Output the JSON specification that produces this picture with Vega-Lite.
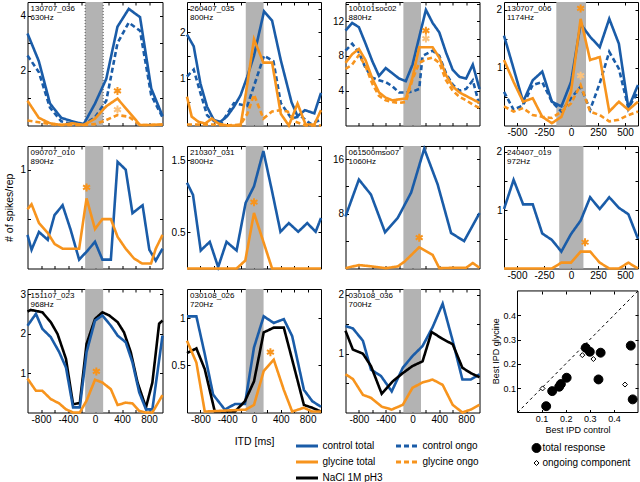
{
"$schema":"https://vega.github.io/schema/vega-lite/v6.json",
"padding":{"left":3.5,"top":-2,"right":0,"bottom":0},
"config":{
 "view":{"stroke":"black","strokeWidth":1},
 "font":"Liberation Sans",
 "axis":{"grid":false,"domain":false,"ticks":true,"tickSize":-3,"tickColor":"black","tickWidth":1,"labelPadding":5,"labelOverlap":false,"labelFont":"Liberation Sans","labelFontSize":10,"labelColor":"black","titleFont":"Liberation Sans","titleFontSize":10.5,"titleFontWeight":"normal","titleColor":"black"}
},
"datasets":{
"curves":[
{"p":1,"s":"ct","x":-1000,"y":3.35},{"p":1,"s":"ct","x":-833,"y":2.35},{"p":1,"s":"ct","x":-667,"y":0.8},{"p":1,"s":"ct","x":-500,"y":0.28},{"p":1,"s":"ct","x":-333,"y":0.15},{"p":1,"s":"ct","x":-167,"y":0.05},{"p":1,"s":"ct","x":0,"y":0.8},{"p":1,"s":"ct","x":167,"y":1.7},{"p":1,"s":"ct","x":333,"y":3.6},{"p":1,"s":"ct","x":500,"y":4.25},{"p":1,"s":"ct","x":667,"y":3.95},{"p":1,"s":"ct","x":833,"y":1.35},{"p":1,"s":"ct","x":1000,"y":0.35},
{"p":1,"s":"co","x":-1000,"y":2.55},{"p":1,"s":"co","x":-833,"y":1.95},{"p":1,"s":"co","x":-667,"y":0.65},{"p":1,"s":"co","x":-500,"y":0.15},{"p":1,"s":"co","x":-333,"y":0.05},{"p":1,"s":"co","x":-167,"y":0.03},{"p":1,"s":"co","x":0,"y":0.3},{"p":1,"s":"co","x":167,"y":0.9},{"p":1,"s":"co","x":333,"y":3.0},{"p":1,"s":"co","x":500,"y":3.75},{"p":1,"s":"co","x":667,"y":3.45},{"p":1,"s":"co","x":833,"y":1.1},{"p":1,"s":"co","x":1000,"y":0.3},
{"p":1,"s":"gt","x":-1000,"y":0.9},{"p":1,"s":"gt","x":-833,"y":0.28},{"p":1,"s":"gt","x":-667,"y":0.08},{"p":1,"s":"gt","x":-500,"y":0.02},{"p":1,"s":"gt","x":-333,"y":0.08},{"p":1,"s":"gt","x":-167,"y":0.02},{"p":1,"s":"gt","x":0,"y":0.25},{"p":1,"s":"gt","x":167,"y":0.7},{"p":1,"s":"gt","x":333,"y":0.98},{"p":1,"s":"gt","x":500,"y":0.5},{"p":1,"s":"gt","x":667,"y":0.02},{"p":1,"s":"gt","x":833,"y":0.02},{"p":1,"s":"gt","x":1000,"y":0.04},
{"p":1,"s":"go","x":-1000,"y":0.18},{"p":1,"s":"go","x":-833,"y":0.12},{"p":1,"s":"go","x":-667,"y":0.05},{"p":1,"s":"go","x":-500,"y":0.02},{"p":1,"s":"go","x":-333,"y":0.02},{"p":1,"s":"go","x":-167,"y":0.02},{"p":1,"s":"go","x":0,"y":0.05},{"p":1,"s":"go","x":167,"y":0.2},{"p":1,"s":"go","x":333,"y":0.38},{"p":1,"s":"go","x":500,"y":0.32},{"p":1,"s":"go","x":667,"y":0.02},{"p":1,"s":"go","x":833,"y":0.02},{"p":1,"s":"go","x":1000,"y":0.03},
{"p":2,"s":"ct","x":-1000,"y":1.95},{"p":2,"s":"ct","x":-900,"y":1.7},{"p":2,"s":"ct","x":-800,"y":0.9},{"p":2,"s":"ct","x":-700,"y":0.4},{"p":2,"s":"ct","x":-600,"y":0.12},{"p":2,"s":"ct","x":-500,"y":0.08},{"p":2,"s":"ct","x":-400,"y":0.2},{"p":2,"s":"ct","x":-300,"y":0.4},{"p":2,"s":"ct","x":-200,"y":0.65},{"p":2,"s":"ct","x":-100,"y":1.05},{"p":2,"s":"ct","x":0,"y":1.5},{"p":2,"s":"ct","x":150,"y":2.45},{"p":2,"s":"ct","x":270,"y":2.25},{"p":2,"s":"ct","x":400,"y":1.4},{"p":2,"s":"ct","x":560,"y":0.5},{"p":2,"s":"ct","x":650,"y":0.2},{"p":2,"s":"ct","x":760,"y":0.33},{"p":2,"s":"ct","x":900,"y":0.26},{"p":2,"s":"ct","x":1000,"y":0.7},
{"p":2,"s":"co","x":-1000,"y":1.05},{"p":2,"s":"co","x":-900,"y":1.2},{"p":2,"s":"co","x":-800,"y":0.7},{"p":2,"s":"co","x":-700,"y":0.22},{"p":2,"s":"co","x":-600,"y":0.1},{"p":2,"s":"co","x":-500,"y":0.02},{"p":2,"s":"co","x":-400,"y":0.25},{"p":2,"s":"co","x":-300,"y":0.48},{"p":2,"s":"co","x":-200,"y":0.45},{"p":2,"s":"co","x":-100,"y":0.42},{"p":2,"s":"co","x":0,"y":0.85},{"p":2,"s":"co","x":150,"y":1.5},{"p":2,"s":"co","x":290,"y":1.38},{"p":2,"s":"co","x":400,"y":0.48},{"p":2,"s":"co","x":560,"y":0.15},{"p":2,"s":"co","x":700,"y":0.2},{"p":2,"s":"co","x":840,"y":0.04},{"p":2,"s":"co","x":1000,"y":0.12},
{"p":2,"s":"gt","x":-1000,"y":0.62},{"p":2,"s":"gt","x":-930,"y":0.19},{"p":2,"s":"gt","x":-830,"y":0.08},{"p":2,"s":"gt","x":-730,"y":0.04},{"p":2,"s":"gt","x":-630,"y":0.15},{"p":2,"s":"gt","x":-530,"y":0.04},{"p":2,"s":"gt","x":-400,"y":0},{"p":2,"s":"gt","x":-300,"y":0},{"p":2,"s":"gt","x":-200,"y":0},{"p":2,"s":"gt","x":-120,"y":0.7},{"p":2,"s":"gt","x":0,"y":1.85},{"p":2,"s":"gt","x":140,"y":1.35},{"p":2,"s":"gt","x":270,"y":1.35},{"p":2,"s":"gt","x":400,"y":0.25},{"p":2,"s":"gt","x":520,"y":0},{"p":2,"s":"gt","x":650,"y":0.47},{"p":2,"s":"gt","x":770,"y":0.02},{"p":2,"s":"gt","x":900,"y":0.02},{"p":2,"s":"gt","x":1000,"y":0.33},
{"p":2,"s":"go","x":-1000,"y":0.02},{"p":2,"s":"go","x":-800,"y":0.02},{"p":2,"s":"go","x":-600,"y":0.02},{"p":2,"s":"go","x":-400,"y":0},{"p":2,"s":"go","x":-200,"y":0.02},{"p":2,"s":"go","x":-100,"y":0.25},{"p":2,"s":"go","x":0,"y":0.66},{"p":2,"s":"go","x":140,"y":0.15},{"p":2,"s":"go","x":270,"y":0.3},{"p":2,"s":"go","x":400,"y":0.33},{"p":2,"s":"go","x":500,"y":0.3},{"p":2,"s":"go","x":620,"y":0.08},{"p":2,"s":"go","x":770,"y":0},{"p":2,"s":"go","x":1000,"y":0},
{"p":3,"s":"ct","x":-1000,"y":10.9},{"p":3,"s":"ct","x":-900,"y":11.8},{"p":3,"s":"ct","x":-800,"y":11.3},{"p":3,"s":"ct","x":-700,"y":9.4},{"p":3,"s":"ct","x":-600,"y":7.4},{"p":3,"s":"ct","x":-500,"y":5.7},{"p":3,"s":"ct","x":-400,"y":6.6},{"p":3,"s":"ct","x":-300,"y":6.0},{"p":3,"s":"ct","x":-200,"y":5.4},{"p":3,"s":"ct","x":-100,"y":5.1},{"p":3,"s":"ct","x":0,"y":7.0},{"p":3,"s":"ct","x":200,"y":13.3},{"p":3,"s":"ct","x":300,"y":11.8},{"p":3,"s":"ct","x":400,"y":10.7},{"p":3,"s":"ct","x":500,"y":8.4},{"p":3,"s":"ct","x":600,"y":6.4},{"p":3,"s":"ct","x":700,"y":5.6},{"p":3,"s":"ct","x":800,"y":5.4},{"p":3,"s":"ct","x":900,"y":7.0},{"p":3,"s":"ct","x":1000,"y":4.2},
{"p":3,"s":"co","x":-1000,"y":8.6},{"p":3,"s":"co","x":-900,"y":9.4},{"p":3,"s":"co","x":-800,"y":8.4},{"p":3,"s":"co","x":-700,"y":6.6},{"p":3,"s":"co","x":-600,"y":5.5},{"p":3,"s":"co","x":-500,"y":5.2},{"p":3,"s":"co","x":-400,"y":5.0},{"p":3,"s":"co","x":-300,"y":4.5},{"p":3,"s":"co","x":-200,"y":3.8},{"p":3,"s":"co","x":-100,"y":3.8},{"p":3,"s":"co","x":0,"y":3.9},{"p":3,"s":"co","x":100,"y":4.2},{"p":3,"s":"co","x":150,"y":8.0},{"p":3,"s":"co","x":300,"y":8.6},{"p":3,"s":"co","x":400,"y":8.0},{"p":3,"s":"co","x":500,"y":6.0},{"p":3,"s":"co","x":600,"y":4.7},{"p":3,"s":"co","x":700,"y":4.0},{"p":3,"s":"co","x":800,"y":4.2},{"p":3,"s":"co","x":900,"y":5.2},{"p":3,"s":"co","x":1000,"y":2.3},
{"p":3,"s":"gt","x":-1000,"y":7.2},{"p":3,"s":"gt","x":-900,"y":8.2},{"p":3,"s":"gt","x":-800,"y":8.8},{"p":3,"s":"gt","x":-700,"y":7.5},{"p":3,"s":"gt","x":-600,"y":5.4},{"p":3,"s":"gt","x":-500,"y":3.8},{"p":3,"s":"gt","x":-400,"y":3.2},{"p":3,"s":"gt","x":-300,"y":2.9},{"p":3,"s":"gt","x":-200,"y":3.0},{"p":3,"s":"gt","x":-100,"y":3.1},{"p":3,"s":"gt","x":0,"y":5.5},{"p":3,"s":"gt","x":100,"y":9.0},{"p":3,"s":"gt","x":200,"y":9.0},{"p":3,"s":"gt","x":300,"y":9.0},{"p":3,"s":"gt","x":400,"y":7.8},{"p":3,"s":"gt","x":500,"y":5.8},{"p":3,"s":"gt","x":600,"y":4.5},{"p":3,"s":"gt","x":700,"y":3.8},{"p":3,"s":"gt","x":800,"y":3.4},{"p":3,"s":"gt","x":900,"y":3.0},{"p":3,"s":"gt","x":1000,"y":2.6},
{"p":3,"s":"go","x":-1000,"y":6.5},{"p":3,"s":"go","x":-900,"y":7.0},{"p":3,"s":"go","x":-800,"y":8.1},{"p":3,"s":"go","x":-700,"y":6.8},{"p":3,"s":"go","x":-600,"y":4.8},{"p":3,"s":"go","x":-500,"y":3.4},{"p":3,"s":"go","x":-400,"y":2.9},{"p":3,"s":"go","x":-300,"y":2.7},{"p":3,"s":"go","x":-200,"y":2.6},{"p":3,"s":"go","x":-100,"y":2.7},{"p":3,"s":"go","x":0,"y":5.3},{"p":3,"s":"go","x":100,"y":7.2},{"p":3,"s":"go","x":200,"y":7.6},{"p":3,"s":"go","x":300,"y":7.8},{"p":3,"s":"go","x":400,"y":7.2},{"p":3,"s":"go","x":500,"y":5.2},{"p":3,"s":"go","x":600,"y":4.0},{"p":3,"s":"go","x":700,"y":3.3},{"p":3,"s":"go","x":800,"y":2.9},{"p":3,"s":"go","x":900,"y":2.4},{"p":3,"s":"go","x":1000,"y":2.0},
{"p":4,"s":"ct","x":-620,"y":1.55},{"p":4,"s":"ct","x":-531,"y":0.98},{"p":4,"s":"ct","x":-443,"y":0.41},{"p":4,"s":"ct","x":-354,"y":0.78},{"p":4,"s":"ct","x":-266,"y":0.93},{"p":4,"s":"ct","x":-177,"y":0.41},{"p":4,"s":"ct","x":-89,"y":0.33},{"p":4,"s":"ct","x":0,"y":0.75},{"p":4,"s":"ct","x":89,"y":1.75},{"p":4,"s":"ct","x":177,"y":1.53},{"p":4,"s":"ct","x":266,"y":1.35},{"p":4,"s":"ct","x":354,"y":1.84},{"p":4,"s":"ct","x":443,"y":1.41},{"p":4,"s":"ct","x":531,"y":0.3},{"p":4,"s":"ct","x":620,"y":0.7},
{"p":4,"s":"co","x":-620,"y":0.58},{"p":4,"s":"co","x":-531,"y":0.27},{"p":4,"s":"co","x":-443,"y":0.35},{"p":4,"s":"co","x":-354,"y":0.7},{"p":4,"s":"co","x":-266,"y":0.75},{"p":4,"s":"co","x":-177,"y":0.41},{"p":4,"s":"co","x":-89,"y":0.24},{"p":4,"s":"co","x":0,"y":0.47},{"p":4,"s":"co","x":89,"y":0.67},{"p":4,"s":"co","x":177,"y":0.27},{"p":4,"s":"co","x":266,"y":0.73},{"p":4,"s":"co","x":354,"y":1.27},{"p":4,"s":"co","x":443,"y":0.98},{"p":4,"s":"co","x":531,"y":0.3},{"p":4,"s":"co","x":620,"y":0.58},
{"p":4,"s":"gt","x":-620,"y":1.13},{"p":4,"s":"gt","x":-531,"y":0.75},{"p":4,"s":"gt","x":-443,"y":0.41},{"p":4,"s":"gt","x":-354,"y":0.47},{"p":4,"s":"gt","x":-266,"y":0.15},{"p":4,"s":"gt","x":-177,"y":0.04},{"p":4,"s":"gt","x":-89,"y":0.15},{"p":4,"s":"gt","x":0,"y":0.58},{"p":4,"s":"gt","x":89,"y":1.84},{"p":4,"s":"gt","x":177,"y":1.13},{"p":4,"s":"gt","x":266,"y":1.18},{"p":4,"s":"gt","x":354,"y":0.24},{"p":4,"s":"gt","x":443,"y":0.41},{"p":4,"s":"gt","x":531,"y":0.27},{"p":4,"s":"gt","x":620,"y":0.41},
{"p":4,"s":"go","x":-620,"y":0.33},{"p":4,"s":"go","x":-531,"y":0.24},{"p":4,"s":"go","x":-443,"y":0.3},{"p":4,"s":"go","x":-354,"y":0.18},{"p":4,"s":"go","x":-266,"y":0.15},{"p":4,"s":"go","x":-177,"y":0.13},{"p":4,"s":"go","x":-89,"y":0.24},{"p":4,"s":"go","x":0,"y":0.38},{"p":4,"s":"go","x":89,"y":0.7},{"p":4,"s":"go","x":177,"y":0.24},{"p":4,"s":"go","x":266,"y":0.18},{"p":4,"s":"go","x":354,"y":0.07},{"p":4,"s":"go","x":443,"y":0.1},{"p":4,"s":"go","x":531,"y":0.18},{"p":4,"s":"go","x":620,"y":0.24},
{"p":5,"s":"ct","x":-1000,"y":0.34},{"p":5,"s":"ct","x":-940,"y":0.19},{"p":5,"s":"ct","x":-830,"y":0.37},{"p":5,"s":"ct","x":-700,"y":0.29},{"p":5,"s":"ct","x":-600,"y":0.54},{"p":5,"s":"ct","x":-480,"y":0.64},{"p":5,"s":"ct","x":-360,"y":0.39},{"p":5,"s":"ct","x":-235,"y":0.09},{"p":5,"s":"ct","x":-125,"y":0.17},{"p":5,"s":"ct","x":0,"y":0.27},{"p":5,"s":"ct","x":110,"y":0.09},{"p":5,"s":"ct","x":235,"y":0.09},{"p":5,"s":"ct","x":335,"y":1.08},{"p":5,"s":"ct","x":455,"y":1.0},{"p":5,"s":"ct","x":555,"y":0.56},{"p":5,"s":"ct","x":705,"y":0.64},{"p":5,"s":"ct","x":805,"y":0.19},{"p":5,"s":"ct","x":900,"y":0.08},{"p":5,"s":"ct","x":1000,"y":0.2},
{"p":5,"s":"gt","x":-1000,"y":0.6},{"p":5,"s":"gt","x":-940,"y":0.65},{"p":5,"s":"gt","x":-830,"y":0.46},{"p":5,"s":"gt","x":-700,"y":0.36},{"p":5,"s":"gt","x":-600,"y":0.25},{"p":5,"s":"gt","x":-480,"y":0.2},{"p":5,"s":"gt","x":-380,"y":0.2},{"p":5,"s":"gt","x":-235,"y":0.2},{"p":5,"s":"gt","x":-125,"y":0.71},{"p":5,"s":"gt","x":0,"y":0.4},{"p":5,"s":"gt","x":110,"y":0.5},{"p":5,"s":"gt","x":235,"y":0.5},{"p":5,"s":"gt","x":335,"y":0.32},{"p":5,"s":"gt","x":455,"y":0.2},{"p":5,"s":"gt","x":580,"y":0.1},{"p":5,"s":"gt","x":700,"y":0.05},{"p":5,"s":"gt","x":830,"y":0.05},{"p":5,"s":"gt","x":900,"y":0.2},{"p":5,"s":"gt","x":1000,"y":0.34},
{"p":6,"s":"ct","x":-1000,"y":1.19},{"p":6,"s":"ct","x":-910,"y":1.02},{"p":6,"s":"ct","x":-795,"y":0.25},{"p":6,"s":"ct","x":-660,"y":0.37},{"p":6,"s":"ct","x":-535,"y":0.02},{"p":6,"s":"ct","x":-410,"y":0.37},{"p":6,"s":"ct","x":-260,"y":0.25},{"p":6,"s":"ct","x":-125,"y":0.91},{"p":6,"s":"ct","x":0,"y":1.14},{"p":6,"s":"ct","x":140,"y":1.63},{"p":6,"s":"ct","x":270,"y":1.07},{"p":6,"s":"ct","x":395,"y":0.51},{"p":6,"s":"ct","x":520,"y":0.63},{"p":6,"s":"ct","x":660,"y":0.51},{"p":6,"s":"ct","x":795,"y":0.63},{"p":6,"s":"ct","x":920,"y":0.51},{"p":6,"s":"ct","x":1000,"y":0.7},
{"p":6,"s":"gt","x":-1000,"y":0},{"p":6,"s":"gt","x":-260,"y":0},{"p":6,"s":"gt","x":-130,"y":0.11},{"p":6,"s":"gt","x":0,"y":0.77},{"p":6,"s":"gt","x":270,"y":0},{"p":6,"s":"gt","x":1000,"y":0},
{"p":7,"s":"ct","x":-1000,"y":7.6},{"p":7,"s":"ct","x":-800,"y":13.0},{"p":7,"s":"ct","x":-620,"y":10.8},{"p":7,"s":"ct","x":-410,"y":5.3},{"p":7,"s":"ct","x":-220,"y":7.4},{"p":7,"s":"ct","x":-20,"y":11.1},{"p":7,"s":"ct","x":175,"y":17.5},{"p":7,"s":"ct","x":375,"y":12.3},{"p":7,"s":"ct","x":575,"y":5.2},{"p":7,"s":"ct","x":770,"y":4.0},{"p":7,"s":"ct","x":1000,"y":8.1},
{"p":7,"s":"gt","x":-1000,"y":0.05},{"p":7,"s":"gt","x":-800,"y":0.5},{"p":7,"s":"gt","x":-600,"y":0.3},{"p":7,"s":"gt","x":-400,"y":0.05},{"p":7,"s":"gt","x":-220,"y":0.3},{"p":7,"s":"gt","x":-120,"y":1.0},{"p":7,"s":"gt","x":100,"y":3.1},{"p":7,"s":"gt","x":300,"y":2.0},{"p":7,"s":"gt","x":400,"y":0.05},{"p":7,"s":"gt","x":600,"y":0.1},{"p":7,"s":"gt","x":800,"y":0.1},{"p":7,"s":"gt","x":900,"y":0.8},{"p":7,"s":"gt","x":1000,"y":0.1},
{"p":8,"s":"ct","x":-620,"y":1.02},{"p":8,"s":"ct","x":-531,"y":1.52},{"p":8,"s":"ct","x":-443,"y":1.1},{"p":8,"s":"ct","x":-354,"y":1.1},{"p":8,"s":"ct","x":-266,"y":0.6},{"p":8,"s":"ct","x":-177,"y":0.49},{"p":8,"s":"ct","x":-89,"y":0.29},{"p":8,"s":"ct","x":0,"y":0.59},{"p":8,"s":"ct","x":89,"y":0.82},{"p":8,"s":"ct","x":177,"y":1.22},{"p":8,"s":"ct","x":266,"y":1.02},{"p":8,"s":"ct","x":354,"y":1.22},{"p":8,"s":"ct","x":443,"y":1.04},{"p":8,"s":"ct","x":531,"y":0.93},{"p":8,"s":"ct","x":620,"y":0.51},
{"p":8,"s":"gt","x":-620,"y":0},{"p":8,"s":"gt","x":-531,"y":0},{"p":8,"s":"gt","x":-443,"y":0},{"p":8,"s":"gt","x":-354,"y":0},{"p":8,"s":"gt","x":-266,"y":0},{"p":8,"s":"gt","x":-177,"y":0},{"p":8,"s":"gt","x":-89,"y":0.1},{"p":8,"s":"gt","x":0,"y":0.1},{"p":8,"s":"gt","x":89,"y":0.29},{"p":8,"s":"gt","x":177,"y":0.29},{"p":8,"s":"gt","x":266,"y":0.1},{"p":8,"s":"gt","x":354,"y":0},{"p":8,"s":"gt","x":443,"y":0},{"p":8,"s":"gt","x":531,"y":0.1},{"p":8,"s":"gt","x":620,"y":0},
{"p":9,"s":"na","x":-1000,"y":2.56},{"p":9,"s":"na","x":-950,"y":2.6},{"p":9,"s":"na","x":-780,"y":2.54},{"p":9,"s":"na","x":-655,"y":2.29},{"p":9,"s":"na","x":-555,"y":1.99},{"p":9,"s":"na","x":-430,"y":1.36},{"p":9,"s":"na","x":-325,"y":0.21},{"p":9,"s":"na","x":-225,"y":0.24},{"p":9,"s":"na","x":-125,"y":1.74},{"p":9,"s":"na","x":0,"y":2.37},{"p":9,"s":"na","x":110,"y":2.54},{"p":9,"s":"na","x":210,"y":2.46},{"p":9,"s":"na","x":335,"y":2.29},{"p":9,"s":"na","x":430,"y":2.03},{"p":9,"s":"na","x":530,"y":1.53},{"p":9,"s":"na","x":630,"y":0.76},{"p":9,"s":"na","x":755,"y":0.13},{"p":9,"s":"na","x":850,"y":0.76},{"p":9,"s":"na","x":950,"y":2.25},{"p":9,"s":"na","x":1000,"y":2.33},
{"p":9,"s":"ct","x":-1000,"y":2.2},{"p":9,"s":"ct","x":-875,"y":2.5},{"p":9,"s":"ct","x":-780,"y":2.12},{"p":9,"s":"ct","x":-655,"y":1.91},{"p":9,"s":"ct","x":-530,"y":1.53},{"p":9,"s":"ct","x":-430,"y":1.14},{"p":9,"s":"ct","x":-325,"y":0.13},{"p":9,"s":"ct","x":-225,"y":0.13},{"p":9,"s":"ct","x":-125,"y":1.53},{"p":9,"s":"ct","x":0,"y":2.33},{"p":9,"s":"ct","x":110,"y":2.46},{"p":9,"s":"ct","x":235,"y":2.2},{"p":9,"s":"ct","x":335,"y":1.95},{"p":9,"s":"ct","x":455,"y":1.78},{"p":9,"s":"ct","x":555,"y":1.27},{"p":9,"s":"ct","x":655,"y":0.51},{"p":9,"s":"ct","x":755,"y":0.08},{"p":9,"s":"ct","x":850,"y":0.08},{"p":9,"s":"ct","x":1000,"y":1.95},
{"p":9,"s":"gt","x":-1000,"y":0.86},{"p":9,"s":"gt","x":-875,"y":0.55},{"p":9,"s":"gt","x":-780,"y":0.55},{"p":9,"s":"gt","x":-655,"y":0.34},{"p":9,"s":"gt","x":-530,"y":0.23},{"p":9,"s":"gt","x":-430,"y":0.08},{"p":9,"s":"gt","x":-325,"y":0},{"p":9,"s":"gt","x":-225,"y":0},{"p":9,"s":"gt","x":-125,"y":0.3},{"p":9,"s":"gt","x":0,"y":0.83},{"p":9,"s":"gt","x":110,"y":0.76},{"p":9,"s":"gt","x":235,"y":0.59},{"p":9,"s":"gt","x":335,"y":0.19},{"p":9,"s":"gt","x":455,"y":0.25},{"p":9,"s":"gt","x":555,"y":0.23},{"p":9,"s":"gt","x":655,"y":0.04},{"p":9,"s":"gt","x":755,"y":0},{"p":9,"s":"gt","x":850,"y":0},{"p":9,"s":"gt","x":1000,"y":0.44},
{"p":10,"s":"ct","x":-1000,"y":1.02},{"p":10,"s":"ct","x":-860,"y":1.02},{"p":10,"s":"ct","x":-735,"y":0.62},{"p":10,"s":"ct","x":-610,"y":0.19},{"p":10,"s":"ct","x":-435,"y":0.03},{"p":10,"s":"ct","x":-285,"y":0.09},{"p":10,"s":"ct","x":-135,"y":0.09},{"p":10,"s":"ct","x":0,"y":0.69},{"p":10,"s":"ct","x":145,"y":1.02},{"p":10,"s":"ct","x":295,"y":0.95},{"p":10,"s":"ct","x":445,"y":0.99},{"p":10,"s":"ct","x":570,"y":0.81},{"p":10,"s":"ct","x":745,"y":0.24},{"p":10,"s":"ct","x":870,"y":0.12},{"p":10,"s":"ct","x":1000,"y":0.06},
{"p":10,"s":"na","x":-1000,"y":0.63},{"p":10,"s":"na","x":-860,"y":0.68},{"p":10,"s":"na","x":-735,"y":0.46},{"p":10,"s":"na","x":-585,"y":0.01},{"p":10,"s":"na","x":-285,"y":0.01},{"p":10,"s":"na","x":-135,"y":0.12},{"p":10,"s":"na","x":0,"y":0.33},{"p":10,"s":"na","x":145,"y":0.85},{"p":10,"s":"na","x":295,"y":0.9},{"p":10,"s":"na","x":445,"y":0.9},{"p":10,"s":"na","x":570,"y":0.56},{"p":10,"s":"na","x":745,"y":0.08},{"p":10,"s":"na","x":870,"y":0.05},{"p":10,"s":"na","x":1000,"y":0.01},
{"p":10,"s":"gt","x":-1000,"y":0.76},{"p":10,"s":"gt","x":-860,"y":0.53},{"p":10,"s":"gt","x":-735,"y":0.01},{"p":10,"s":"gt","x":-125,"y":0.03},{"p":10,"s":"gt","x":0,"y":0.08},{"p":10,"s":"gt","x":145,"y":0.44},{"p":10,"s":"gt","x":295,"y":0.56},{"p":10,"s":"gt","x":445,"y":0.24},{"p":10,"s":"gt","x":570,"y":0.01},{"p":10,"s":"gt","x":745,"y":0.05},{"p":10,"s":"gt","x":870,"y":0.01},{"p":10,"s":"gt","x":1000,"y":0.01},
{"p":11,"s":"ct","x":-1000,"y":1.47},{"p":11,"s":"ct","x":-890,"y":1.43},{"p":11,"s":"ct","x":-740,"y":1.22},{"p":11,"s":"ct","x":-620,"y":0.73},{"p":11,"s":"ct","x":-470,"y":0.62},{"p":11,"s":"ct","x":-310,"y":0.36},{"p":11,"s":"ct","x":-145,"y":0.76},{"p":11,"s":"ct","x":0,"y":0.96},{"p":11,"s":"ct","x":150,"y":1.13},{"p":11,"s":"ct","x":300,"y":1.45},{"p":11,"s":"ct","x":450,"y":1.85},{"p":11,"s":"ct","x":600,"y":1.22},{"p":11,"s":"ct","x":745,"y":0.56},{"p":11,"s":"ct","x":870,"y":0.56},{"p":11,"s":"ct","x":1000,"y":0.65},
{"p":11,"s":"na","x":-1000,"y":1.39},{"p":11,"s":"na","x":-890,"y":1.07},{"p":11,"s":"na","x":-740,"y":1.0},{"p":11,"s":"na","x":-620,"y":0.79},{"p":11,"s":"na","x":-460,"y":0.32},{"p":11,"s":"na","x":-295,"y":0.53},{"p":11,"s":"na","x":-145,"y":0.67},{"p":11,"s":"na","x":0,"y":0.79},{"p":11,"s":"na","x":150,"y":0.87},{"p":11,"s":"na","x":285,"y":1.37},{"p":11,"s":"na","x":450,"y":1.25},{"p":11,"s":"na","x":600,"y":1.16},{"p":11,"s":"na","x":745,"y":0.76},{"p":11,"s":"na","x":870,"y":0.67},{"p":11,"s":"na","x":1000,"y":0.6},
{"p":11,"s":"gt","x":-1000,"y":0.65},{"p":11,"s":"gt","x":-890,"y":0.57},{"p":11,"s":"gt","x":-740,"y":0.3},{"p":11,"s":"gt","x":-620,"y":0.25},{"p":11,"s":"gt","x":-460,"y":0.1},{"p":11,"s":"gt","x":-310,"y":0.05},{"p":11,"s":"gt","x":-145,"y":0.13},{"p":11,"s":"gt","x":0,"y":0.42},{"p":11,"s":"gt","x":150,"y":0.51},{"p":11,"s":"gt","x":300,"y":0.56},{"p":11,"s":"gt","x":450,"y":0.47},{"p":11,"s":"gt","x":600,"y":0.13},{"p":11,"s":"gt","x":745,"y":0},{"p":11,"s":"gt","x":870,"y":0.05},{"p":11,"s":"gt","x":1000,"y":0.13}
],
"stars":[
{"p":1,"x":333,"y":1.26,"k":"t"},{"p":1,"x":333,"y":0.58,"k":"o"},{"p":3,"x":200,"y":10.9,"k":"t"},{"p":3,"x":200,"y":10.0,"k":"o"},{"p":4,"x":89,"y":2.02,"k":"t"},{"p":4,"x":89,"y":0.86,"k":"o"},{"p":5,"x":-125,"y":0.82,"k":"t"},{"p":6,"x":0,"y":0.92,"k":"t"},{"p":7,"x":100,"y":4.5,"k":"t"},{"p":8,"x":130,"y":0.45,"k":"t"},{"p":9,"x":20,"y":1.04,"k":"t"},{"p":10,"x":245,"y":0.64,"k":"t"}
],
"ipd":[
{"k":"t","x":0.119,"y":0.026},{"k":"t","x":0.144,"y":0.088},{"k":"t","x":0.173,"y":0.106},{"k":"t","x":0.18,"y":0.117},{"k":"t","x":0.204,"y":0.143},{"k":"t","x":0.283,"y":0.266},{"k":"t","x":0.3,"y":0.25},{"k":"t","x":0.345,"y":0.246},{"k":"t","x":0.336,"y":0.136},{"k":"t","x":0.47,"y":0.275},{"k":"t","x":0.478,"y":0.054},
{"k":"o","x":0.104,"y":0.099},{"k":"o","x":0.269,"y":0.236},{"k":"o","x":0.315,"y":0.22},{"k":"o","x":0.446,"y":0.115}
]
},
"bounds":"flush",
"columns":4,
"spacing":{"row":20,"column":24.5},
"concat":[
{"width":135,"height":123.5,"resolve":{"axis":{"x":"independent","y":"independent"}},"layer":[
 {"data":{"values":[{}]},"mark":{"type":"rect","color":"#b3b3b3"},"encoding":{"x":{"datum":-146,"axis":null},"x2":{"datum":121}}},
 {"data":{"values":[{}]},"mark":{"type":"rule","color":"#555555","strokeDash":[1,2],"strokeWidth":1},"encoding":{"x":{"datum":-146,"axis":null}}},
 {"data":{"values":[{}]},"mark":{"type":"rule","color":"#555555","strokeDash":[1,2],"strokeWidth":1},"encoding":{"x":{"datum":121,"axis":null}}},
 {"data":{"name":"curves"},"transform":[{"filter":"datum.p==1"}],"mark":{"type":"line","strokeWidth":2.6},"encoding":{
  "x":{"field":"x","type":"quantitative","scale":{"domain":[-1000,1000],"nice":false,"zero":false},"axis":{"title":null,"values":[-800,-600,-400,-200,0,200,400,600,800],"labels":false}},
  "y":{"field":"y","type":"quantitative","scale":{"domain":[0,4.5],"nice":false,"zero":false},"axis":{"title":null,"values":[1,2,3,4],"labelExpr":"datum.value%2==0?toString(datum.value):''"}},
  "color":{"field":"s","type":"nominal","scale":{"domain":["ct","co","gt","go","na"],"range":["#1a5ca8","#1a5ca8","#f7941d","#f7941d","#000000"]},
   "legend":{"orient":"none","legendX":267,"legendY":437,"columns":2,"direction":"horizontal","title":null,"symbolType":"M-1,0L3,0","symbolSize":121,"symbolStrokeWidth":3,"labelFont":"Liberation Sans","labelFontSize":10,"labelColor":"black","labelOffset":14,"columnPadding":6,"rowPadding":3,"labelLimit":200,"labelExpr":"datum.label=='ct'?'control total':datum.label=='co'?'control ongo':datum.label=='gt'?'glycine total':datum.label=='go'?'glycine ongo':'NaCl 1M pH3'"}},
  "strokeDash":{"field":"s","type":"nominal","scale":{"domain":["ct","co","gt","go","na"],"range":[[1,0],[5,3],[1,0],[5,3],[1,0]]}}}},
 {"data":{"name":"stars"},"transform":[{"filter":"datum.p==1"}],"mark":{"type":"point","shape":"M0,-1L0,1M-0.87,-0.5L0.87,0.5M-0.87,0.5L0.87,-0.5","filled":false,"size":64,"strokeWidth":2,"opacity":1},"encoding":{"x":{"field":"x","type":"quantitative","axis":null},"y":{"field":"y","type":"quantitative","axis":null},"stroke":{"condition":{"test":"datum.k=='t'","value":"#f7941d"},"value":"#fbc27c"}}},
 {"data":{"values":[{}]},"mark":{"type":"text","align":"left","baseline":"top","dx":3,"dy":3,"fontSize":8,"lineHeight":9,"font":"Liberation Sans","text":["130707_036","630Hz"]},"encoding":{"x":{"datum":-1000,"axis":{"orient":"top","labels":false,"title":null,"values":[-800,-600,-400,-200,0,200,400,600,800]}},"y":{"datum":4.5,"axis":{"orient":"right","labels":false,"title":null,"values":[1,2,3,4]}}}}
]},
{"width":134,"height":123.5,"resolve":{"axis":{"x":"independent","y":"independent"}},"layer":[
 {"data":{"values":[{}]},"mark":{"type":"rect","color":"#b3b3b3"},"encoding":{"x":{"datum":-123,"axis":null},"x2":{"datum":143}}},
 {"data":{"name":"curves"},"transform":[{"filter":"datum.p==2"}],"mark":{"type":"line","strokeWidth":2.6},"encoding":{
  "x":{"field":"x","type":"quantitative","scale":{"domain":[-1000,1000],"nice":false,"zero":false},"axis":{"title":null,"values":[-800,-600,-400,-200,0,200,400,600,800],"labels":false}},
  "y":{"field":"y","type":"quantitative","scale":{"domain":[0,2.65],"nice":false,"zero":false},"axis":{"title":null,"values":[0.5,1,1.5,2,2.5],"labelExpr":"datum.value%1==0?toString(datum.value):''"}},
  "color":{"field":"s","type":"nominal","scale":{"domain":["ct","co","gt","go","na"],"range":["#1a5ca8","#1a5ca8","#f7941d","#f7941d","#000000"]}},
  "strokeDash":{"field":"s","type":"nominal","scale":{"domain":["ct","co","gt","go","na"],"range":[[1,0],[5,3],[1,0],[5,3],[1,0]]}}}},
 {"data":{"values":[{}]},"mark":{"type":"text","align":"left","baseline":"top","dx":3,"dy":3,"fontSize":8,"lineHeight":9,"font":"Liberation Sans","text":["260407_035","800Hz"]},"encoding":{"x":{"datum":-1000,"axis":{"orient":"top","labels":false,"title":null,"values":[-800,-600,-400,-200,0,200,400,600,800]}},"y":{"datum":2.65,"axis":{"orient":"right","labels":false,"title":null,"values":[0.5,1,1.5,2,2.5]}}}}
]},
{"width":134,"height":123.5,"resolve":{"axis":{"x":"independent","y":"independent"}},"layer":[
 {"data":{"values":[{}]},"mark":{"type":"rect","color":"#b3b3b3"},"encoding":{"x":{"datum":-136,"axis":null},"x2":{"datum":127}}},
 {"data":{"name":"curves"},"transform":[{"filter":"datum.p==3"}],"mark":{"type":"line","strokeWidth":2.6},"encoding":{
  "x":{"field":"x","type":"quantitative","scale":{"domain":[-1000,1000],"nice":false,"zero":false},"axis":{"title":null,"values":[-800,-600,-400,-200,0,200,400,600,800],"labels":false}},
  "y":{"field":"y","type":"quantitative","scale":{"domain":[0,14.2],"nice":false,"zero":false},"axis":{"title":null,"values":[2,4,6,8,10,12,14],"labelExpr":"datum.value%4==0?toString(datum.value):''"}},
  "color":{"field":"s","type":"nominal","scale":{"domain":["ct","co","gt","go","na"],"range":["#1a5ca8","#1a5ca8","#f7941d","#f7941d","#000000"]}},
  "strokeDash":{"field":"s","type":"nominal","scale":{"domain":["ct","co","gt","go","na"],"range":[[1,0],[5,3],[1,0],[5,3],[1,0]]}}}},
 {"data":{"name":"stars"},"transform":[{"filter":"datum.p==3"}],"mark":{"type":"point","shape":"M0,-1L0,1M-0.87,-0.5L0.87,0.5M-0.87,0.5L0.87,-0.5","filled":false,"size":64,"strokeWidth":2,"opacity":1},"encoding":{"x":{"field":"x","type":"quantitative","axis":null},"y":{"field":"y","type":"quantitative","axis":null},"stroke":{"condition":{"test":"datum.k=='t'","value":"#f7941d"},"value":"#fbc27c"}}},
 {"data":{"values":[{}]},"mark":{"type":"text","align":"left","baseline":"top","dx":3,"dy":3,"fontSize":8,"lineHeight":9,"font":"Liberation Sans","text":["100101soc02","880Hz"]},"encoding":{"x":{"datum":-1000,"axis":{"orient":"top","labels":false,"title":null,"values":[-800,-600,-400,-200,0,200,400,600,800]}},"y":{"datum":14.2,"axis":{"orient":"right","labels":false,"title":null,"values":[2,4,6,8,10,12,14]}}}}
]},
{"width":134,"height":123.5,"resolve":{"axis":{"x":"independent","y":"independent"}},"layer":[
 {"data":{"values":[{}]},"mark":{"type":"rect","color":"#b3b3b3"},"encoding":{"x":{"datum":-136,"axis":null},"x2":{"datum":139}}},
 {"data":{"name":"curves"},"transform":[{"filter":"datum.p==4"}],"mark":{"type":"line","strokeWidth":2.6},"encoding":{
  "x":{"field":"x","type":"quantitative","scale":{"domain":[-620,620],"nice":false,"zero":false},"axis":{"title":null,"values":[-500,-250,0,250,500],"labelExpr":"toString(datum.value)"}},
  "y":{"field":"y","type":"quantitative","scale":{"domain":[0,2.13],"nice":false,"zero":false},"axis":{"title":null,"values":[0.5,1,1.5,2],"labelExpr":"datum.value==1?'1':''"}},
  "color":{"field":"s","type":"nominal","scale":{"domain":["ct","co","gt","go","na"],"range":["#1a5ca8","#1a5ca8","#f7941d","#f7941d","#000000"]}},
  "strokeDash":{"field":"s","type":"nominal","scale":{"domain":["ct","co","gt","go","na"],"range":[[1,0],[5,3],[1,0],[5,3],[1,0]]}}}},
 {"data":{"name":"stars"},"transform":[{"filter":"datum.p==4"}],"mark":{"type":"point","shape":"M0,-1L0,1M-0.87,-0.5L0.87,0.5M-0.87,0.5L0.87,-0.5","filled":false,"size":64,"strokeWidth":2,"opacity":1},"encoding":{"x":{"field":"x","type":"quantitative","axis":null},"y":{"field":"y","type":"quantitative","axis":null},"stroke":{"condition":{"test":"datum.k=='t'","value":"#f7941d"},"value":"#fbc27c"}}},
 {"data":{"values":[{}]},"mark":{"type":"text","align":"right","baseline":"middle","dx":-2,"fontSize":10,"font":"Liberation Sans","color":"black","text":"2"},"encoding":{"x":{"datum":-620,"axis":null},"y":{"datum":2,"axis":null}}},
 {"data":{"values":[{}]},"mark":{"type":"text","align":"left","baseline":"top","dx":3,"dy":3,"fontSize":8,"lineHeight":9,"font":"Liberation Sans","text":["130707_006","1174Hz"]},"encoding":{"x":{"datum":-620,"axis":{"orient":"top","labels":false,"title":null,"values":[-500,-250,0,250,500]}},"y":{"datum":2.13,"axis":{"orient":"right","labels":false,"title":null,"values":[0.5,1,1.5,2]}}}}
]},
{"width":135,"height":122.5,"resolve":{"axis":{"x":"independent","y":"independent"}},"layer":[
 {"data":{"values":[{}]},"mark":{"type":"rect","color":"#b3b3b3"},"encoding":{"x":{"datum":-146,"axis":null},"x2":{"datum":121}}},
 {"data":{"name":"curves"},"transform":[{"filter":"datum.p==5"}],"mark":{"type":"line","strokeWidth":2.6},"encoding":{
  "x":{"field":"x","type":"quantitative","scale":{"domain":[-1000,1000],"nice":false,"zero":false},"axis":{"title":null,"values":[-800,-600,-400,-200,0,200,400,600,800],"labels":false}},
  "y":{"field":"y","type":"quantitative","scale":{"domain":[0,1.24],"nice":false,"zero":false},"axis":{"title":"# of spikes/rep","titlePadding":5,"values":[0.5,1],"labelExpr":"datum.value==1?'1':''"}},
  "color":{"field":"s","type":"nominal","scale":{"domain":["ct","co","gt","go","na"],"range":["#1a5ca8","#1a5ca8","#f7941d","#f7941d","#000000"]}},
  "strokeDash":{"field":"s","type":"nominal","scale":{"domain":["ct","co","gt","go","na"],"range":[[1,0],[5,3],[1,0],[5,3],[1,0]]}}}},
 {"data":{"name":"stars"},"transform":[{"filter":"datum.p==5"}],"mark":{"type":"point","shape":"M0,-1L0,1M-0.87,-0.5L0.87,0.5M-0.87,0.5L0.87,-0.5","filled":false,"size":64,"strokeWidth":2,"opacity":1},"encoding":{"x":{"field":"x","type":"quantitative","axis":null},"y":{"field":"y","type":"quantitative","axis":null},"stroke":{"condition":{"test":"datum.k=='t'","value":"#f7941d"},"value":"#fbc27c"}}},
 {"data":{"values":[{}]},"mark":{"type":"text","align":"left","baseline":"top","dx":3,"dy":3,"fontSize":8,"lineHeight":9,"font":"Liberation Sans","text":["090707_010","890Hz"]},"encoding":{"x":{"datum":-1000,"axis":{"orient":"top","labels":false,"title":null,"values":[-800,-600,-400,-200,0,200,400,600,800]}},"y":{"datum":1.24,"axis":{"orient":"right","labels":false,"title":null,"values":[0.5,1]}}}}
]},
{"width":134,"height":122.5,"resolve":{"axis":{"x":"independent","y":"independent"}},"layer":[
 {"data":{"values":[{}]},"mark":{"type":"rect","color":"#b3b3b3"},"encoding":{"x":{"datum":-123,"axis":null},"x2":{"datum":143}}},
 {"data":{"name":"curves"},"transform":[{"filter":"datum.p==6"}],"mark":{"type":"line","strokeWidth":2.6},"encoding":{
  "x":{"field":"x","type":"quantitative","scale":{"domain":[-1000,1000],"nice":false,"zero":false},"axis":{"title":null,"values":[-800,-600,-400,-200,0,200,400,600,800],"labels":false}},
  "y":{"field":"y","type":"quantitative","scale":{"domain":[0,1.7],"nice":false,"zero":false},"axis":{"title":null,"values":[0.5,1,1.5],"labelExpr":"datum.value==1?'':toString(datum.value)"}},
  "color":{"field":"s","type":"nominal","scale":{"domain":["ct","co","gt","go","na"],"range":["#1a5ca8","#1a5ca8","#f7941d","#f7941d","#000000"]}},
  "strokeDash":{"field":"s","type":"nominal","scale":{"domain":["ct","co","gt","go","na"],"range":[[1,0],[5,3],[1,0],[5,3],[1,0]]}}}},
 {"data":{"name":"stars"},"transform":[{"filter":"datum.p==6"}],"mark":{"type":"point","shape":"M0,-1L0,1M-0.87,-0.5L0.87,0.5M-0.87,0.5L0.87,-0.5","filled":false,"size":64,"strokeWidth":2,"opacity":1},"encoding":{"x":{"field":"x","type":"quantitative","axis":null},"y":{"field":"y","type":"quantitative","axis":null},"stroke":{"condition":{"test":"datum.k=='t'","value":"#f7941d"},"value":"#fbc27c"}}},
 {"data":{"values":[{}]},"mark":{"type":"text","align":"left","baseline":"top","dx":3,"dy":3,"fontSize":8,"lineHeight":9,"font":"Liberation Sans","text":["210307_031","800Hz"]},"encoding":{"x":{"datum":-1000,"axis":{"orient":"top","labels":false,"title":null,"values":[-800,-600,-400,-200,0,200,400,600,800]}},"y":{"datum":1.7,"axis":{"orient":"right","labels":false,"title":null,"values":[0.5,1,1.5]}}}}
]},
{"width":134,"height":122.5,"resolve":{"axis":{"x":"independent","y":"independent"}},"layer":[
 {"data":{"values":[{}]},"mark":{"type":"rect","color":"#b3b3b3"},"encoding":{"x":{"datum":-136,"axis":null},"x2":{"datum":127}}},
 {"data":{"name":"curves"},"transform":[{"filter":"datum.p==7"}],"mark":{"type":"line","strokeWidth":2.6},"encoding":{
  "x":{"field":"x","type":"quantitative","scale":{"domain":[-1000,1000],"nice":false,"zero":false},"axis":{"title":null,"values":[-800,-600,-400,-200,0,200,400,600,800],"labels":false}},
  "y":{"field":"y","type":"quantitative","scale":{"domain":[0,17.9],"nice":false,"zero":false},"axis":{"title":null,"values":[4,8,12,16],"labelExpr":"datum.value%8==0?toString(datum.value):''"}},
  "color":{"field":"s","type":"nominal","scale":{"domain":["ct","co","gt","go","na"],"range":["#1a5ca8","#1a5ca8","#f7941d","#f7941d","#000000"]}},
  "strokeDash":{"field":"s","type":"nominal","scale":{"domain":["ct","co","gt","go","na"],"range":[[1,0],[5,3],[1,0],[5,3],[1,0]]}}}},
 {"data":{"name":"stars"},"transform":[{"filter":"datum.p==7"}],"mark":{"type":"point","shape":"M0,-1L0,1M-0.87,-0.5L0.87,0.5M-0.87,0.5L0.87,-0.5","filled":false,"size":64,"strokeWidth":2,"opacity":1},"encoding":{"x":{"field":"x","type":"quantitative","axis":null},"y":{"field":"y","type":"quantitative","axis":null},"stroke":{"condition":{"test":"datum.k=='t'","value":"#f7941d"},"value":"#fbc27c"}}},
 {"data":{"values":[{}]},"mark":{"type":"text","align":"left","baseline":"top","dx":3,"dy":3,"fontSize":8,"lineHeight":9,"font":"Liberation Sans","text":["061500mso07","1060Hz"]},"encoding":{"x":{"datum":-1000,"axis":{"orient":"top","labels":false,"title":null,"values":[-800,-600,-400,-200,0,200,400,600,800]}},"y":{"datum":17.9,"axis":{"orient":"right","labels":false,"title":null,"values":[4,8,12,16]}}}}
]},
{"width":134,"height":122.5,"resolve":{"axis":{"x":"independent","y":"independent"}},"layer":[
 {"data":{"values":[{}]},"mark":{"type":"rect","color":"#b3b3b3"},"encoding":{"x":{"datum":-109,"axis":null},"x2":{"datum":115}}},
 {"data":{"name":"curves"},"transform":[{"filter":"datum.p==8"}],"mark":{"type":"line","strokeWidth":2.6},"encoding":{
  "x":{"field":"x","type":"quantitative","scale":{"domain":[-620,620],"nice":false,"zero":false},"axis":{"title":null,"values":[-500,-250,0,250,500],"labelExpr":"toString(datum.value)"}},
  "y":{"field":"y","type":"quantitative","scale":{"domain":[0,2.1],"nice":false,"zero":false},"axis":{"title":null,"values":[0.5,1,1.5,2],"labelExpr":"datum.value==1?'1':''"}},
  "color":{"field":"s","type":"nominal","scale":{"domain":["ct","co","gt","go","na"],"range":["#1a5ca8","#1a5ca8","#f7941d","#f7941d","#000000"]}},
  "strokeDash":{"field":"s","type":"nominal","scale":{"domain":["ct","co","gt","go","na"],"range":[[1,0],[5,3],[1,0],[5,3],[1,0]]}}}},
 {"data":{"name":"stars"},"transform":[{"filter":"datum.p==8"}],"mark":{"type":"point","shape":"M0,-1L0,1M-0.87,-0.5L0.87,0.5M-0.87,0.5L0.87,-0.5","filled":false,"size":64,"strokeWidth":2,"opacity":1},"encoding":{"x":{"field":"x","type":"quantitative","axis":null},"y":{"field":"y","type":"quantitative","axis":null},"stroke":{"condition":{"test":"datum.k=='t'","value":"#f7941d"},"value":"#fbc27c"}}},
 {"data":{"values":[{}]},"mark":{"type":"text","align":"right","baseline":"middle","dx":-2,"fontSize":10,"font":"Liberation Sans","color":"black","text":"2"},"encoding":{"x":{"datum":-620,"axis":null},"y":{"datum":2,"axis":null}}},
 {"data":{"values":[{}]},"mark":{"type":"text","align":"left","baseline":"top","dx":3,"dy":3,"fontSize":8,"lineHeight":9,"font":"Liberation Sans","text":["240407_019","972Hz"]},"encoding":{"x":{"datum":-620,"axis":{"orient":"top","labels":false,"title":null,"values":[-500,-250,0,250,500]}},"y":{"datum":2.1,"axis":{"orient":"right","labels":false,"title":null,"values":[0.5,1,1.5,2]}}}}
]},
{"width":135,"height":123.5,"resolve":{"axis":{"x":"independent","y":"independent"}},"layer":[
 {"data":{"values":[{}]},"mark":{"type":"rect","color":"#b3b3b3"},"encoding":{"x":{"datum":-146,"axis":null},"x2":{"datum":121}}},
 {"data":{"name":"curves"},"transform":[{"filter":"datum.p==9"}],"mark":{"type":"line","strokeWidth":2.6},"encoding":{
  "x":{"field":"x","type":"quantitative","scale":{"domain":[-1000,1000],"nice":false,"zero":false},"axis":{"title":null,"values":[-800,-600,-400,-200,0,200,400,600,800],"labelExpr":"abs(datum.value)%400==0?toString(datum.value):''"}},
  "y":{"field":"y","type":"quantitative","scale":{"domain":[0,3.13],"nice":false,"zero":false},"axis":{"title":null,"values":[1,2,3],"labelExpr":"toString(datum.value)"}},
  "color":{"field":"s","type":"nominal","scale":{"domain":["ct","co","gt","go","na"],"range":["#1a5ca8","#1a5ca8","#f7941d","#f7941d","#000000"]}},
  "strokeDash":{"field":"s","type":"nominal","scale":{"domain":["ct","co","gt","go","na"],"range":[[1,0],[5,3],[1,0],[5,3],[1,0]]}}}},
 {"data":{"name":"stars"},"transform":[{"filter":"datum.p==9"}],"mark":{"type":"point","shape":"M0,-1L0,1M-0.87,-0.5L0.87,0.5M-0.87,0.5L0.87,-0.5","filled":false,"size":64,"strokeWidth":2,"opacity":1},"encoding":{"x":{"field":"x","type":"quantitative","axis":null},"y":{"field":"y","type":"quantitative","axis":null},"stroke":{"condition":{"test":"datum.k=='t'","value":"#f7941d"},"value":"#fbc27c"}}},
 {"data":{"values":[{}]},"mark":{"type":"text","align":"left","baseline":"top","dx":3,"dy":3,"fontSize":8,"lineHeight":9,"font":"Liberation Sans","text":["151107_023","968Hz"]},"encoding":{"x":{"datum":-1000,"axis":{"orient":"top","labels":false,"title":null,"values":[-800,-600,-400,-200,0,200,400,600,800]}},"y":{"datum":3.13,"axis":{"orient":"right","labels":false,"title":null,"values":[1,2,3]}}}}
]},
{"width":134,"height":123.5,"resolve":{"axis":{"x":"independent","y":"independent"}},"layer":[
 {"data":{"values":[{}]},"mark":{"type":"rect","color":"#b3b3b3"},"encoding":{"x":{"datum":-123,"axis":null},"x2":{"datum":143}}},
 {"data":{"name":"curves"},"transform":[{"filter":"datum.p==10"}],"mark":{"type":"line","strokeWidth":2.6},"encoding":{
  "x":{"field":"x","type":"quantitative","scale":{"domain":[-1000,1000],"nice":false,"zero":false},"axis":{"title":"ITD [ms]","titlePadding":12,"values":[-800,-600,-400,-200,0,200,400,600,800],"labelExpr":"abs(datum.value)%400==0?toString(datum.value):''"}},
  "y":{"field":"y","type":"quantitative","scale":{"domain":[0,1.31],"nice":false,"zero":false},"axis":{"title":null,"values":[0.5,1],"labelExpr":"toString(datum.value)"}},
  "color":{"field":"s","type":"nominal","scale":{"domain":["ct","co","gt","go","na"],"range":["#1a5ca8","#1a5ca8","#f7941d","#f7941d","#000000"]}},
  "strokeDash":{"field":"s","type":"nominal","scale":{"domain":["ct","co","gt","go","na"],"range":[[1,0],[5,3],[1,0],[5,3],[1,0]]}}}},
 {"data":{"name":"stars"},"transform":[{"filter":"datum.p==10"}],"mark":{"type":"point","shape":"M0,-1L0,1M-0.87,-0.5L0.87,0.5M-0.87,0.5L0.87,-0.5","filled":false,"size":64,"strokeWidth":2,"opacity":1},"encoding":{"x":{"field":"x","type":"quantitative","axis":null},"y":{"field":"y","type":"quantitative","axis":null},"stroke":{"condition":{"test":"datum.k=='t'","value":"#f7941d"},"value":"#fbc27c"}}},
 {"data":{"values":[{}]},"mark":{"type":"text","align":"left","baseline":"top","dx":3,"dy":3,"fontSize":8,"lineHeight":9,"font":"Liberation Sans","text":["030108_026","720Hz"]},"encoding":{"x":{"datum":-1000,"axis":{"orient":"top","labels":false,"title":null,"values":[-800,-600,-400,-200,0,200,400,600,800]}},"y":{"datum":1.31,"axis":{"orient":"right","labels":false,"title":null,"values":[0.5,1]}}}}
]},
{"width":134,"height":123.5,"resolve":{"axis":{"x":"independent","y":"independent"}},"layer":[
 {"data":{"values":[{}]},"mark":{"type":"rect","color":"#b3b3b3"},"encoding":{"x":{"datum":-136,"axis":null},"x2":{"datum":127}}},
 {"data":{"name":"curves"},"transform":[{"filter":"datum.p==11"}],"mark":{"type":"line","strokeWidth":2.6},"encoding":{
  "x":{"field":"x","type":"quantitative","scale":{"domain":[-1000,1000],"nice":false,"zero":false},"axis":{"title":null,"values":[-800,-600,-400,-200,0,200,400,600,800],"labelExpr":"abs(datum.value)%400==0?toString(datum.value):''"}},
  "y":{"field":"y","type":"quantitative","scale":{"domain":[0,2.1],"nice":false,"zero":false},"axis":{"title":null,"values":[0.5,1,1.5,2],"labelExpr":"datum.value%1==0?toString(datum.value):''"}},
  "color":{"field":"s","type":"nominal","scale":{"domain":["ct","co","gt","go","na"],"range":["#1a5ca8","#1a5ca8","#f7941d","#f7941d","#000000"]}},
  "strokeDash":{"field":"s","type":"nominal","scale":{"domain":["ct","co","gt","go","na"],"range":[[1,0],[5,3],[1,0],[5,3],[1,0]]}}}},
 {"data":{"values":[{}]},"mark":{"type":"text","align":"left","baseline":"top","dx":3,"dy":3,"fontSize":8,"lineHeight":9,"font":"Liberation Sans","text":["030108_036","700Hz"]},"encoding":{"x":{"datum":-1000,"axis":{"orient":"top","labels":false,"title":null,"values":[-800,-600,-400,-200,0,200,400,600,800]}},"y":{"datum":2.1,"axis":{"orient":"right","labels":false,"title":null,"values":[0.5,1,1.5,2]}}}}
]},
{"width":134,"height":123.5,"view":{"stroke":null},"resolve":{"axis":{"x":"independent","y":"independent"}},"layer":[
 {"data":{"values":[{}]},"mark":{"type":"rect","fillOpacity":0,"stroke":"black","strokeWidth":1},"encoding":{"x":{"datum":0,"axis":{"orient":"top","labels":false,"title":null,"offset":-2,"values":[0.1,0.2,0.3,0.4]}},"x2":{"datum":0.5},"y":{"datum":0,"axis":{"orient":"right","labels":false,"title":null,"values":[0.1,0.2,0.3,0.4]}},"y2":{"datum":0.5}}},
 {"data":{"values":[{}]},"mark":{"type":"rule","color":"black","strokeDash":[3,3],"strokeWidth":1},"encoding":{"x":{"datum":0,"axis":null},"y":{"datum":0,"axis":null},"x2":{"datum":0.5},"y2":{"datum":0.5}}},
 {"data":{"name":"ipd"},"mark":{"type":"point","filled":true,"opacity":1,"strokeWidth":1,"stroke":"black"},"encoding":{
  "x":{"field":"x","type":"quantitative","scale":{"domain":[-0.056,0.5],"nice":false,"zero":false},"axis":{"title":"Best IPD control","titleFontSize":9,"titlePadding":2,"titleX":73.5,"labelFontSize":9,"values":[0.1,0.2,0.3,0.4]}},
  "y":{"field":"y","type":"quantitative","scale":{"domain":[0,0.508],"nice":false,"zero":false},"axis":{"title":"Best IPD glycine","titleFontSize":9,"titlePadding":2,"offset":-13.5,"labelFontSize":9,"values":[0.1,0.2,0.3,0.4]}},
  "shape":{"field":"k","type":"nominal","scale":{"domain":["t","o"],"range":["circle","diamond"]},"legend":{"orient":"none","legendX":504,"legendY":441,"title":null,"direction":"vertical","labelFont":"Liberation Sans","labelFontSize":10,"labelColor":"black","labelOffset":1,"rowPadding":3,"symbolStrokeColor":"black","symbolStrokeWidth":1,"labelExpr":"datum.label=='t'?'total response':'ongoing component'"}},
  "fill":{"field":"k","type":"nominal","scale":{"domain":["t","o"],"range":["black","white"]}},
  "size":{"field":"k","type":"ordinal","scale":{"domain":["t","o"],"range":[80,25]}}
 }}
]}
]
}
